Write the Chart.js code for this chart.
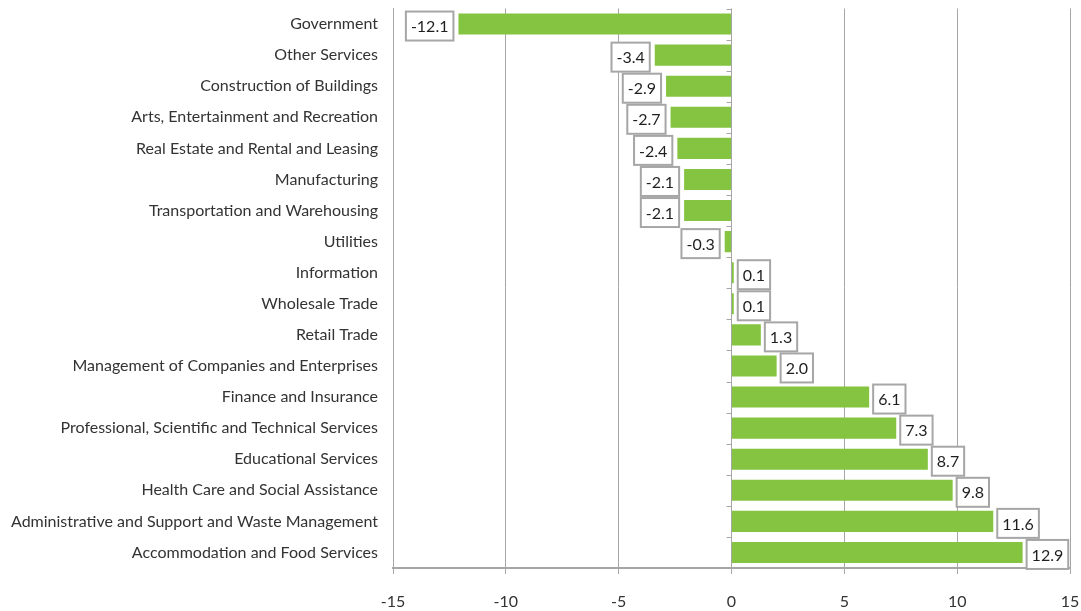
<!DOCTYPE html>
<html lang="en">

<head>
    <meta charset="UTF-8">
    <title>Change by industry</title>
    <script src="https://cdn.jsdelivr.net/npm/chart.js"></script>
    <style>
        html, body {
            margin: 0;
            padding: 0;
            background: #fff;
            overflow: hidden;
        }

        #wrap {
            width: 1081px;
            height: 611px;
        }
    </style>
</head>

<body>
    <div id="wrap">
        <canvas id="chart"></canvas>
    </div>

    <script>
        const industries = [
            'Government',
            'Other Services',
            'Construction of Buildings',
            'Arts, Entertainment and Recreation',
            'Real Estate and Rental and Leasing',
            'Manufacturing',
            'Transportation and Warehousing',
            'Utilities',
            'Information',
            'Wholesale Trade',
            'Retail Trade',
            'Management of Companies and Enterprises',
            'Finance and Insurance',
            'Professional, Scientific and Technical Services',
            'Educational Services',
            'Health Care and Social Assistance',
            'Administrative and Support and Waste Management',
            'Accommodation and Food Services'
        ];
        const changes = [-12.1, -3.4, -2.9, -2.7, -2.4, -2.1, -2.1, -0.3, 0.1, 0.1, 1.3, 2.0, 6.1, 7.3, 8.7, 9.8, 11.6, 12.9];
        const xTicks = [-15, -10, -5, 0, 5, 10, 15];

        const FONT = 'Lato, "Open Sans", sans-serif';
        const TEXT = '#333333';
        const GRID = '#a6a6a6';

        // boxed value labels at the end of each bar
        const valueBoxes = {
            id: 'valueBoxes',
            afterDatasetsDraw(chart) {
                const ctx = chart.ctx;
                const meta = chart.getDatasetMeta(0);
                ctx.save();
                ctx.font = '16px ' + FONT;
                ctx.textBaseline = 'middle';
                ctx.textAlign = 'center';
                meta.data.forEach((bar, i) => {
                    const v = changes[i];
                    const txt = v.toFixed(1);
                    const w = ctx.measureText(txt).width + 10;
                    const h = 29;
                    const left = v < 0 ? bar.x - 5 - w : bar.x + 4;
                    const top = bar.y - h / 2 + 2;
                    ctx.fillStyle = '#fff';
                    ctx.fillRect(left, top, w, h);
                    ctx.strokeStyle = GRID;
                    ctx.lineWidth = 2;
                    ctx.strokeRect(left, top, w, h);
                    ctx.fillStyle = '#1f1f1f';
                    ctx.fillText(txt, left + w / 2, top + h / 2 + 1);
                });
                ctx.restore();
            }
        };

        // small category ticks on the zero line
        const zeroTicks = {
            id: 'zeroTicks',
            afterDatasetsDraw(chart) {
                const ctx = chart.ctx;
                const x0 = chart.scales.x.getPixelForValue(0);
                const ys = chart.scales.y;
                const step = (ys.bottom - ys.top) / industries.length;
                ctx.save();
                ctx.strokeStyle = GRID;
                ctx.lineWidth = 1;
                ctx.beginPath();
                for (let i = 0; i <= industries.length; i++) {
                    const y = Math.round(ys.top + i * step) + 0.5;
                    ctx.moveTo(x0 - 5, y);
                    ctx.lineTo(x0, y);
                }
                ctx.stroke();
                ctx.restore();
            }
        };

        new Chart(document.getElementById('chart'), {
            type: 'bar',
            data: {
                labels: industries,
                datasets: [{
                    data: changes,
                    backgroundColor: '#84c441',
                    borderWidth: 0,
                    categoryPercentage: 1,
                    barPercentage: 0.68
                }]
            },
            plugins: [zeroTicks, valueBoxes],
            options: {
                responsive: true,
                maintainAspectRatio: false,
                animation: false,
                indexAxis: 'y',
                layout: {
                    padding: 0
                },
                scales: {
                    x: {
                        min: -15,
                        max: 15,
                        afterBuildTicks: (axis) => {
                            axis.ticks = xTicks.map(v => ({ value: v }));
                        },
                        afterFit: (axis) => {
                            axis.height = 43;
                            axis.paddingLeft = 0;
                            axis.paddingRight = 11;
                        },
                        grid: {
                            color: GRID,
                            lineWidth: 1,
                            tickLength: 6,
                            drawTicks: true
                        },
                        border: { color: GRID, width: 2 },
                        ticks: {
                            color: TEXT,
                            font: { family: FONT, size: 16 },
                            padding: 18,
                            maxRotation: 0
                        }
                    },
                    y: {
                        afterFit: (axis) => {
                            axis.width = 393;
                            axis.paddingTop = 8.5;
                            axis.paddingBottom = 0;
                        },
                        grid: { display: false },
                        border: { color: GRID, width: 1 },
                        ticks: {
                            color: TEXT,
                            font: { family: FONT, size: 16 },
                            padding: 7,
                            autoSkip: false
                        }
                    }
                },
                plugins: {
                    legend: { display: false },
                    tooltip: { enabled: false }
                }
            }
        });
    </script>
</body>

</html>
